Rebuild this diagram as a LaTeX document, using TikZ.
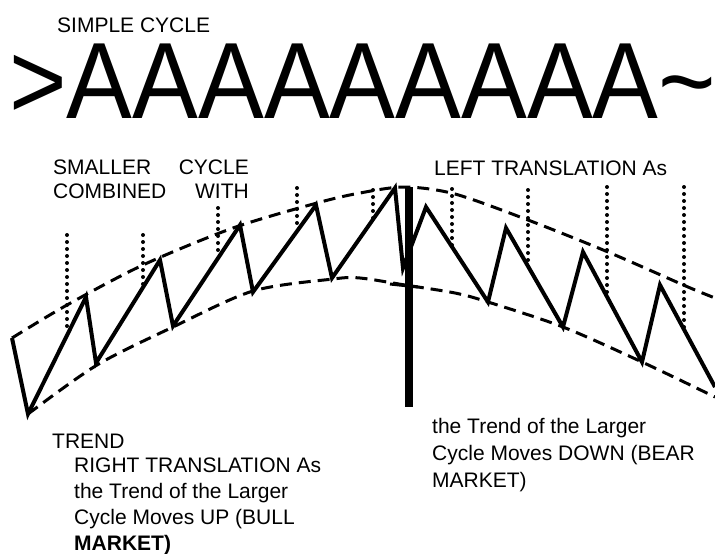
\documentclass[tikz,border=0pt]{standalone}
\usepackage{fontspec}
\setmainfont{Liberation Sans}
\tikzset{
    lbl/.style={inner sep=0pt, anchor=base west, align=left, font=\fontsize{21}{27}\selectfont},
    bigtxt/.style={inner sep=0pt, anchor=base west, font=\fontsize{98.6}{100}\selectfont},
    zigzag/.style={line width=4pt, line join=miter},
    bound/.style={line width=3pt, dash pattern=on 12pt off 7pt},
    drop/.style={line width=4pt, line cap=round, dash pattern=on 0pt off 7pt},
    midbar/.style={line width=7.5pt}
}
\begin{document}
\begin{tikzpicture}[x=1pt, y=-1pt]
    \useasboundingbox (0,0) rectangle (715,554);
    % titles (multi-line nodes sit on the baseline of their last line)
    \node[lbl] (simple) at (57,32) {SIMPLE CYCLE};
    \node[bigtxt] (cycle) at (9,118) {\scalebox{1}[1.1]{>AAAAAAAAA\textasciitilde}};
    \node[lbl, font=\fontsize{21}{24}\selectfont] (smaller) at (53,198) {SMALLER\\COMBINED};
    \node[lbl, anchor=base east, align=right, font=\fontsize{21}{24}\selectfont] (with) at (249,198) {CYCLE\\WITH};
    \node[lbl] (left) at (434,175) {LEFT TRANSLATION As};
    % envelopes of the larger cycle
    \draw[bound] plot[smooth] coordinates {(12,338) (67,305) (143,265) (233,228) (317,203) (360,193) (405,187) (455,194) (528,220) (608,252) (688,287) (715,298)};
    \draw[bound] plot[smooth] coordinates {(28,414) (97,365) (173,327) (253,291) (333,279) (360,278) (405,285) (455,293) (488,302) (563,327) (642,362) (715,397)};
    % smaller cycle
    \draw[zigzag] (12,338) -- (28,414) -- (86,297) -- (96,363) -- (160,260) -- (173,326) -- (240,225) -- (253,292) -- (316,205) -- (332,278) -- (395,188) -- (403,268) -- (426,207) -- (488,302) -- (506,228) -- (563,327) -- (583,252) -- (642,362) -- (660,285) -- (715,387);
    \draw[drop] (67,235) -- (67,333); \draw[drop] (143,235) -- (143,285); \draw[drop] (218,208) -- (218,257);
    \draw[drop] (297,188) -- (297,229); \draw[drop] (373,190) -- (373,219);
    \draw[drop] (452,189) -- (452,246); \draw[drop] (528,190) -- (528,262);
    \draw[drop] (607,187) -- (607,296); \draw[drop] (684,187) -- (684,328);
    \draw[midbar] (409,187) -- (409,407);
    \draw[line width=3pt] (390,284) -- (418,287);
    % captions
    \node[lbl] (trend) at (52,448) {TREND};
    \node[lbl, font=\fontsize{21}{26}\selectfont] (bull) at (74,550) {RIGHT TRANSLATION As\\the Trend of the Larger\\Cycle Moves UP (BULL\\\textbf{MARKET)}};
    \node[lbl] (bear) at (432,487) {the Trend of the Larger\\Cycle Moves DOWN (BEAR\\MARKET)};
\end{tikzpicture}
\end{document}
